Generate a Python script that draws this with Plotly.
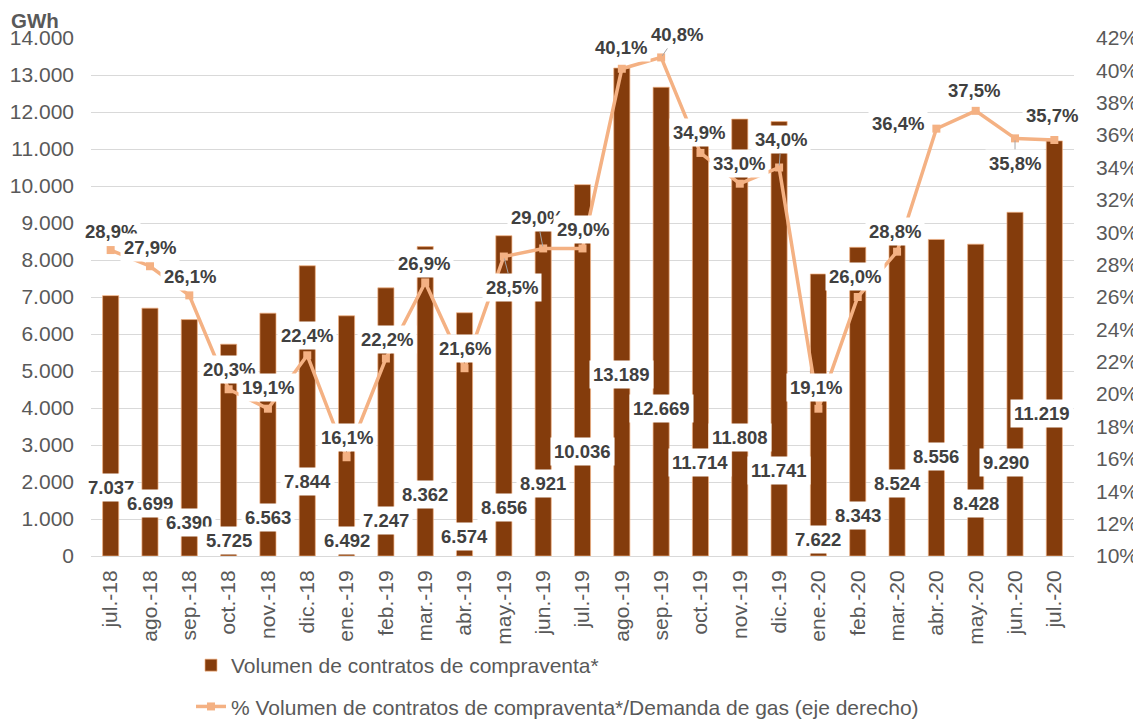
import plotly.graph_objects as go

# ---------------- data ----------------
categories = ["jul.-18", "ago.-18", "sep.-18", "oct.-18", "nov.-18", "dic.-18",
              "ene.-19", "feb.-19", "mar.-19", "abr.-19", "may.-19", "jun.-19",
              "jul.-19", "ago.-19", "sep.-19", "oct.-19", "nov.-19", "dic.-19",
              "ene.-20", "feb.-20", "mar.-20", "abr.-20", "may.-20", "jun.-20",
              "jul.-20"]

volumen_gwh = [7037, 6699, 6390, 5725, 6563, 7844, 6492, 7247, 8362, 6574,
               8656, 8921, 10036, 13189, 12669, 11714, 11808, 11741, 7622,
               8343, 8524, 8556, 8428, 9290, 11219]

pct_demanda = [28.9, 27.9, 26.1, 20.3, 19.1, 22.4, 16.1, 22.2, 26.9, 21.6,
               28.5, 29.0, 29.0, 40.1, 40.8, 34.9, 33.0, 34.0, 19.1, 26.0,
               28.8, 36.4, 37.5, 35.8, 35.7]

left_ticks = list(range(0, 14001, 1000))
right_ticks = list(range(10, 43, 2))
right_tick_text = [f"{t}%" for t in right_ticks]

name_bar = "Volumen de contratos de compraventa*"
name_line = "% Volumen de contratos de compraventa*/Demanda de gas (eje derecho)"

# ---------------- label placement (layout only) ----------------
# vertical position of each bar label (in GWh axis units)
bar_label_pos = [1865, 1432, 919, 432, 1054, 2027, 432, 973, 1649, 514,
                 1324, 1973, 2811, 4919, 4000, 2514, 3216, 2324, 459, 1108,
                 1973, 2676, 1432, 2514, 3865]
bar_label_dx = [0] * 23 + [-9, -12]

# (dx, dy in screen pixels, leader line?) of each % label relative to its marker
pct_label_off = [(0, -19, False), (0, -19, False), (1, -19, False), (0, -20, False),
                 (0, -21, False), (0, -20, False), (0, -20, False), (1, -19, False),
                 (-1, -19, False), (0, -20, False), (8, 31, True), (-6, -31, True),
                 (0, -19, False), (-1, -21, False), (16, -23, True), (-1, -20, False),
                 (-1, -20, False), (2, -28, True), (-2, -21, False), (-3, -21, False),
                 (-2, -20, False), (-38, -5, False), (-2, -20, False), (0, 25, True),
                 (-2, -24, False)]

BAR_COLOR = "#843C0C"
LINE_COLOR = "#F4B183"
TICK_COLOR = "#595959"
LABEL_COLOR = "#404040"
FONT = "Liberation Sans, Arial, sans-serif"

# page has an 8px body margin, so the figure is drawn 8px smaller
FIG_W, FIG_H = 1133, 713


def fmt_int(v):
    return f"{v:,}".replace(",", ".")


def fmt_pct(p):
    return f"{p:.1f}%".replace(".", ",")


fig = go.Figure()

fig.add_trace(go.Bar(
    x=categories, y=volumen_gwh, name=name_bar,
    marker=dict(color=BAR_COLOR, line=dict(color=LINE_COLOR, width=0.7)),
    width=0.41, legendgroup="a", yaxis="y",
))

fig.add_trace(go.Scatter(
    x=categories, y=pct_demanda, name=name_line, yaxis="y2",
    mode="lines+markers",
    line=dict(color=LINE_COLOR, width=3.5),
    marker=dict(symbol="square", size=8, color=LINE_COLOR),
    legendgroup="b",
))

annotations = []
for i, c in enumerate(categories):
    annotations.append(dict(
        x=c, y=bar_label_pos[i], xref="x", yref="y",
        text=fmt_int(volumen_gwh[i]), showarrow=False, xshift=bar_label_dx[i],
        font=dict(family=FONT, size=18.5, color=LABEL_COLOR, weight="bold"),
        bgcolor="white", borderpad=3,
    ))

for i, c in enumerate(categories):
    dx, dy, leader = pct_label_off[i]
    common = dict(
        x=c, y=pct_demanda[i], xref="x", yref="y2",
        text=fmt_pct(pct_demanda[i]),
        font=dict(family=FONT, size=18.5, color=LABEL_COLOR, weight="bold"),
        bgcolor="white", borderpad=3,
    )
    if leader:
        common.update(showarrow=True, ax=dx, ay=dy, axref="pixel", ayref="pixel",
                      arrowhead=0, arrowwidth=1, arrowcolor="#A6A6A6", standoff=2)
    else:
        common.update(showarrow=False, xshift=dx, yshift=-dy)
    annotations.append(common)

annotations.append(dict(
    x=-0.0824, y=1 + (30 - 12) / 518, xref="paper", yref="paper",
    xanchor="left", yanchor="middle",
    text="<b>GWh</b>", showarrow=False, borderpad=0,
    font=dict(family=FONT, size=20.5, color=TICK_COLOR),
))

fig.update_layout(
    width=FIG_W, height=FIG_H,
    margin=dict(l=83, r=67, t=30, b=165, autoexpand=False),
    paper_bgcolor="white", plot_bgcolor="white",
    separators=",.",
    font=dict(family=FONT, size=21, color=TICK_COLOR),
    xaxis=dict(
        type="category", tickangle=-90, showgrid=False, ticks="",
        showline=True, linecolor="#D9D9D9", linewidth=1,
        tickfont=dict(family=FONT, size=21, color=TICK_COLOR),
        ticklabelstandoff=5, range=[-0.5, 24.5],
    ),
    yaxis=dict(
        range=[0, 14000], tickvals=left_ticks, tickformat=",d",
        showgrid=True, gridcolor="#D9D9D9", gridwidth=1, zeroline=False,
        tickfont=dict(family=FONT, size=21, color=TICK_COLOR),
        ticks="", ticklabelstandoff=16,
    ),
    yaxis2=dict(
        range=[10, 42], tickvals=right_ticks, ticktext=right_tick_text,
        overlaying="y", side="right", showgrid=False, zeroline=False,
        tickfont=dict(family=FONT, size=21, color=TICK_COLOR),
        ticks="", ticklabelstandoff=21,
    ),
    legend=dict(
        orientation="v", xref="paper", yref="paper",
        x=(191 - 91) / 983, y=-(645 - 556) / 518, xanchor="left", yanchor="top",
        font=dict(family=FONT, size=21, color=TICK_COLOR),
        tracegroupgap=11, bgcolor="rgba(0,0,0,0)",
    ),
    annotations=annotations,
    showlegend=True,
)

fig.write_html("out.html")
